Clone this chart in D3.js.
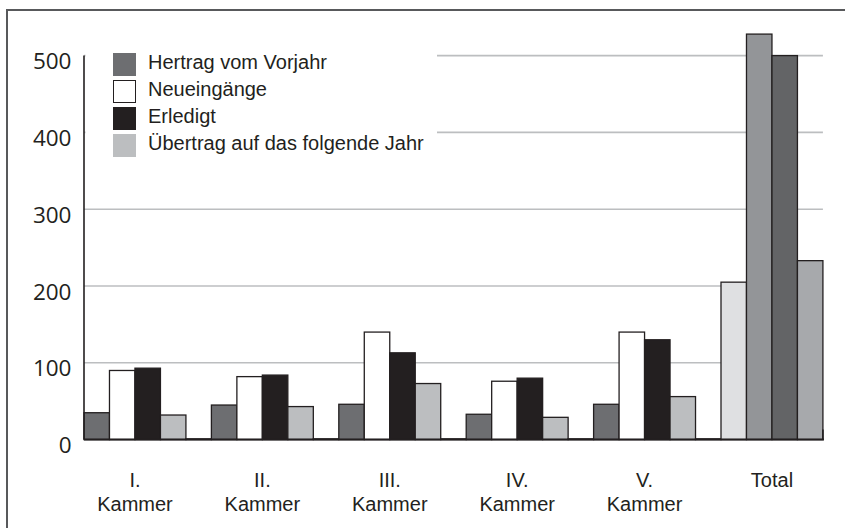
<!DOCTYPE html>
<html>
<head>
<meta charset="utf-8">
<script src="https://cdn.jsdelivr.net/npm/d3@7"></script>
<style>
  html, body { margin: 0; padding: 0; background: #fff; }
  svg { display: block; }
</style>
</head>
<body>
<div id="chart"></div>
<script>
// categories and series
var groups = ['I.|Kammer', 'II.|Kammer', 'III.|Kammer', 'IV.|Kammer', 'V.|Kammer', 'Total'];
var seriesNames = ['Hertrag vom Vorjahr', 'Neueingänge', 'Erledigt', 'Übertrag auf das folgende Jahr'];
var hertrag = [35, 45, 46, 33, 46];
var neueingaenge = [90, 82, 140, 76, 140];
var erledigt = [93, 84, 113, 80, 130];
var uebertrag = [32, 43, 73, 29, 56];
var totals = [205, 528, 500, 233];
var spacer = [1, 1, 1, 1, 1];   // the thin empty bar after each Kammer
var yTicks = [0, 100, 200, 300, 400, 500];

var seriesColors = ['#6d6e71', '#ffffff', '#231f20', '#bcbec0'];
var totalColors = ['#dfe0e2', '#939598', '#636466', '#a7a9ac'];

var width = 845, height = 528;
var svg = d3.select('#chart').append('svg')
    .attr('width', width)
    .attr('height', height);

var slot = 25.48;
var left = 84;

// outer group scale: each group gets 5 slots (4 bars + spacer)
var x0 = d3.scaleBand()
    .domain(groups)
    .range([left, left + groups.length * 5 * slot])
    .padding(0);
var x1 = d3.scaleBand()
    .domain([0, 1, 2, 3, 4])
    .range([0, x0.bandwidth()])
    .padding(0);

var y = d3.scaleLinear()
    .domain([0, 500])
    .range([439.6, 55.6]);

var axisEnd = x0('Total') + 4 * x1.bandwidth();

// frame
svg.append('rect')
    .attr('x', 7).attr('y', 10)
    .attr('width', 845).attr('height', 540)
    .attr('fill', 'none')
    .attr('stroke', '#58595b')
    .attr('stroke-width', 2);

// gridlines
svg.append('g')
    .selectAll('line')
    .data(yTicks.filter(function(d) { return d > 0; }))
    .enter()
    .append('line')
    .attr('x1', left).attr('x2', axisEnd)
    .attr('y1', function(d) { return y(d); })
    .attr('y2', function(d) { return y(d); })
    .attr('stroke', '#bcbec0')
    .attr('stroke-width', 1.6);

// build bar records
var bars = [];
var kammerSeries = [hertrag, neueingaenge, erledigt, uebertrag];
groups.slice(0, 5).forEach(function(g, gi) {
    kammerSeries.forEach(function(s, si) {
        bars.push({ group: g, idx: si, value: s[gi], fill: seriesColors[si] });
    });
    bars.push({ group: g, idx: 4, value: spacer[gi], fill: '#ffffff' });
});
totals.forEach(function(v, si) {
    bars.push({ group: 'Total', idx: si, value: v, fill: totalColors[si] });
});

svg.append('g')
    .selectAll('rect')
    .data(bars)
    .enter()
    .append('rect')
    .attr('x', function(d) { return x0(d.group) + x1(d.idx); })
    .attr('y', function(d) { return y(d.value); })
    .attr('width', x1.bandwidth())
    .attr('height', function(d) { return y(0) - y(d.value); })
    .attr('fill', function(d) { return d.fill; })
    .attr('stroke', '#231f20')
    .attr('stroke-width', 1.3);

// axes lines
svg.append('line')
    .attr('x1', left).attr('x2', left)
    .attr('y1', y(500)).attr('y2', y(0))
    .attr('stroke', '#231f20').attr('stroke-width', 1.6);
svg.append('line')
    .attr('x1', left).attr('x2', axisEnd + 1)
    .attr('y1', y(0)).attr('y2', y(0))
    .attr('stroke', '#231f20').attr('stroke-width', 2);
svg.append('line')
    .attr('x1', axisEnd).attr('x2', axisEnd)
    .attr('y1', y(0) - 10).attr('y2', y(0))
    .attr('stroke', '#231f20').attr('stroke-width', 1.6);

// y tick labels
svg.append('g')
    .selectAll('text')
    .data(yTicks)
    .enter()
    .append('text')
    .attr('x', 71.5)
    .attr('y', function(d) { return y(d) + 13.5; })
    .attr('text-anchor', 'end')
    .attr('font-family', '"Open Sans", sans-serif')
    .attr('font-size', '22.5px')
    .attr('fill', '#231f20')
    .text(function(d) { return d; });

// category labels, centered under the 4 bars
var catLabel = svg.append('g')
    .selectAll('text')
    .data(groups)
    .enter()
    .append('text')
    .attr('text-anchor', 'middle')
    .attr('font-family', '"Liberation Sans", Arial, sans-serif')
    .attr('font-size', '20px')
    .attr('fill', '#231f20')
    .attr('transform', function(d) {
        return 'translate(' + (x0(d) + 2 * x1.bandwidth()) + ',487)';
    });
catLabel.each(function(d) {
    var lines = d.split('|');
    var t = d3.select(this);
    lines.forEach(function(l, i) {
        t.append('tspan')
            .attr('x', 0)
            .attr('y', i * 24)
            .text(l);
    });
});

// legend with white background covering the gridlines
var legend = svg.append('g');
legend.append('rect')
    .attr('x', left + 1.5).attr('y', 40)
    .attr('width', 437 - left - 1.5).attr('height', 135)
    .attr('fill', '#ffffff');

var legendColors = seriesColors;
var item = legend.selectAll('g.item')
    .data(seriesNames)
    .enter()
    .append('g')
    .attr('class', 'item')
    .attr('transform', function(d, i) { return 'translate(113,' + (53 + i * 27) + ')'; });

item.append('rect')
    .attr('x', function(d, i) { return i === 1 ? 0.5 : 0; })
    .attr('y', function(d, i) { return i === 1 ? 0.5 : 0; })
    .attr('width', function(d, i) { return i === 1 ? 22 : 23; })
    .attr('height', function(d, i) { return i === 1 ? 22 : 23; })
    .attr('fill', function(d, i) { return legendColors[i]; })
    .attr('stroke', function(d, i) { return i === 1 ? '#231f20' : 'none'; })
    .attr('stroke-width', 1);

item.append('text')
    .attr('x', 35)
    .attr('y', 15.5)
    .attr('font-family', '"Liberation Sans", Arial, sans-serif')
    .attr('font-size', '20px')
    .attr('fill', '#231f20')
    .text(function(d) { return d; });
</script>
</body>
</html>
